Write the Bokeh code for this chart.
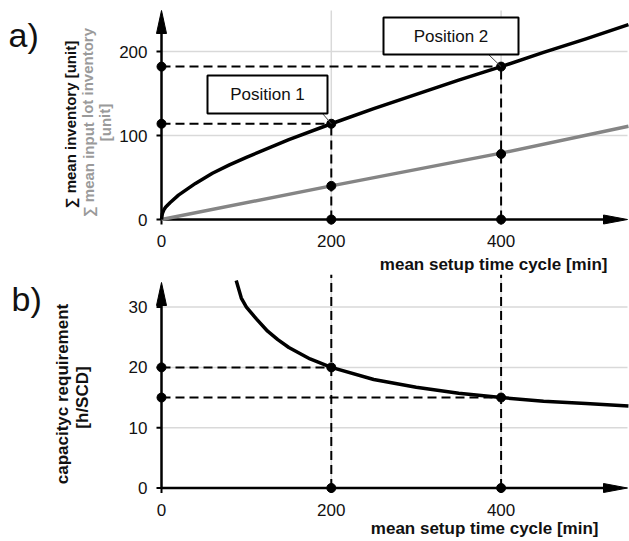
from bokeh.plotting import figure
from bokeh.models import Range1d, Label
from bokeh.layouts import column
from bokeh.embed import file_html
from bokeh.resources import INLINE
from bokeh.core.properties import value

# ---------------- data ----------------
setup_x = [0, 1, 3, 5, 10, 20, 40, 60, 80, 100, 150, 200, 250, 300, 350, 400, 450, 500, 550]
mean_inventory = [0, 7, 12, 15, 20, 29, 43, 55, 65, 74, 95, 114, 132, 149, 166, 182, 199, 215, 232]

lot_x = [0, 200, 400, 550]
lot_inventory = [0, 40, 79, 111]

cap_x = [88, 94, 100, 112, 125, 137, 150, 175, 200, 250, 300, 350, 400, 450, 500, 550]
capacity = [34.4, 31.5, 30, 28, 26, 24.6, 23.3, 21.4, 20, 18, 16.7, 15.7, 15, 14.4, 14, 13.6]

pos_x = [200, 400]
pos_labels = ["Position 1", "Position 2"]
inv_at_pos = [114, 182]
lot_at_pos = [40, 78]
cap_at_pos = [20, 15]

x_ticks = [0, 200, 400]
top_y_ticks = [0, 100, 200]
bot_y_ticks = [0, 10, 20, 30]

FONT = "Liberation Sans"

# ---------------- pixel helpers (layout only) ----------------
XP0, XS = 161.0, 0.849
def X(px):
    return (px - XP0) / XS

YT0, YTS = 219.0, 0.84
def YT(py):
    return (YT0 - py) / YTS

YB0, YBS = 487.5, 6.03
def YB(py):
    return (YB0 - py) / YBS

SPLIT = 274  # page row where the bottom panel starts

GRID = "#d9d9d9"
GREY = "#858585"
GREYTXT = "#9a9a9a"
TXT = "#111111"


def panel(height, y_lo, y_hi):
    p = figure(width=629, height=height, output_backend="svg", toolbar_location=None,
               x_range=Range1d(X(0), X(629)), y_range=Range1d(y_lo, y_hi),
               x_axis_type=None, y_axis_type=None, title=None,
               min_border_left=0, min_border_right=0, min_border_top=0, min_border_bottom=0)
    p.outline_line_color = None
    p.grid.visible = False
    return p


def ticks_and_labels(p, yfun, y_ticks):
    p.segment(x0=[X(156)] * len(y_ticks), y0=y_ticks, x1=[0] * len(y_ticks), y1=y_ticks,
              line_color="black", line_width=2)
    p.text(x=[X(147)] * len(y_ticks), y=y_ticks, text=[str(t) for t in y_ticks],
           text_font=value(FONT), text_font_size="17px", text_align="right",
           text_baseline="middle", text_color=TXT)
    p.segment(x0=x_ticks, y0=[0] * len(x_ticks), x1=x_ticks, y1=[yfun(5)] * len(x_ticks),
              line_color="black", line_width=2)


# ================= top panel =================
p1 = panel(SPLIT, YT(SPLIT), YT(0))

ytop1 = YT(10)
xend = X(627)
gy = [t for t in top_y_ticks if t > 0]
p1.segment(x0=[0] * len(gy), y0=gy, x1=[xend] * len(gy), y1=gy, line_color=GRID, line_width=1.5)
gx = [t for t in x_ticks if t > 0]
p1.segment(x0=gx, y0=[0] * len(gx), x1=gx, y1=[ytop1] * len(gx), line_color=GRID, line_width=1.5)

p1.segment(x0=[0] * len(pos_x), y0=inv_at_pos, x1=pos_x, y1=inv_at_pos,
           line_color="black", line_width=2, line_dash="9 5")
p1.segment(x0=pos_x, y0=[0] * len(pos_x), x1=pos_x, y1=inv_at_pos,
           line_color="black", line_width=2, line_dash="9 5")

ticks_and_labels(p1, lambda d: YT(YT0 + d), top_y_ticks)
p1.text(x=x_ticks, y=[YT(240)] * len(x_ticks), text=[str(t) for t in x_ticks],
        text_font=value(FONT), text_font_size="17px", text_align="center",
        text_baseline="middle", text_color=TXT)

p1.segment(x0=[0, 0], y0=[0, 0], x1=[0, X(610)], y1=[YT(25), 0], line_color="black", line_width=2.5)
p1.patch(x=[X(156), X(161), X(166)], y=[YT(33), YT(10), YT(33)], color="black")
p1.patch(x=[X(603), X(627), X(603)], y=[YT(214.5), YT(219), YT(223.5)], color="black")

p1.line(lot_x, lot_inventory, line_color=GREY, line_width=3.5)
p1.line(setup_x, mean_inventory, line_color="black", line_width=3.5, line_join="round")

p1.scatter([0] * len(pos_x) + pos_x + pos_x + pos_x,
           inv_at_pos + inv_at_pos + [0] * len(pos_x) + lot_at_pos,
           size=9, color="black")

box_l = [X(207), X(383)]
box_r = [X(327), X(518)]
box_b = [YT(113), YT(54)]
box_t = [YT(75), YT(17)]
p1.segment(x0=[X(322), X(488)], y0=[YT(113), YT(54)], x1=pos_x, y1=inv_at_pos,
           line_color="#444444", line_width=1)
p1.quad(left=box_l, right=box_r, bottom=box_b, top=box_t,
        fill_color="white", line_color="black", line_width=2)
p1.text(x=[(a + b) / 2 for a, b in zip(box_l, box_r)],
        y=[(a + b) / 2 for a, b in zip(box_b, box_t)], text=pos_labels,
        text_font=value(FONT), text_font_size="17px", text_align="center",
        text_baseline="middle", text_color=TXT)

p1.add_layout(Label(x=X(8), y=YT(34), text="a)", text_font=FONT, text_font_size="34px",
                    text_align="left", text_baseline="alphabetic", text_color=TXT))
p1.add_layout(Label(x=X(607), y=YT(264), text="mean setup time cycle [min]", text_font=FONT,
                    text_font_size="17px", text_font_style="bold", text_align="right",
                    text_baseline="middle", text_color=TXT))
p1.add_layout(Label(x=X(70), y=YT(124), text="∑ mean inventory [unit]", text_font=FONT,
                    text_font_size="15px", text_font_style="bold", angle=1.5708,
                    text_align="center", text_baseline="middle", text_color=TXT))
p1.add_layout(Label(x=X(87.5), y=YT(122), text="∑ mean input lot inventory", text_font=FONT,
                    text_font_size="15px", text_font_style="bold", angle=1.5708,
                    text_align="center", text_baseline="middle", text_color=GREYTXT))
p1.add_layout(Label(x=X(104.5), y=YT(122), text="[unit]", text_font=FONT,
                    text_font_size="15px", text_font_style="bold", angle=1.5708,
                    text_align="center", text_baseline="middle", text_color=GREYTXT))

# ================= bottom panel =================
p2 = panel(541 - SPLIT, YB(541), YB(SPLIT))

ytop2 = YB(SPLIT)
gy2 = [t for t in bot_y_ticks if t > 0]
p2.segment(x0=[0] * len(gy2), y0=gy2, x1=[xend] * len(gy2), y1=gy2, line_color=GRID, line_width=1.5)
p2.segment(x0=gx, y0=[0] * len(gx), x1=gx, y1=[ytop2] * len(gx), line_color=GRID, line_width=1.5)

p2.segment(x0=[0] * len(pos_x), y0=cap_at_pos, x1=pos_x, y1=cap_at_pos,
           line_color="black", line_width=2, line_dash="9 5")
p2.segment(x0=pos_x, y0=[0] * len(pos_x), x1=pos_x, y1=[ytop2] * len(pos_x),
           line_color="black", line_width=2, line_dash="9 5")

ticks_and_labels(p2, lambda d: YB(YB0 + d), bot_y_ticks)
p2.text(x=x_ticks, y=[YB(509)] * len(x_ticks), text=[str(t) for t in x_ticks],
        text_font=value(FONT), text_font_size="17px", text_align="center",
        text_baseline="middle", text_color=TXT)

p2.segment(x0=[0, 0], y0=[0, 0], x1=[0, X(610)], y1=[YB(297), 0], line_color="black", line_width=2.5)
p2.patch(x=[X(156), X(161), X(166)], y=[YB(305), YB(282), YB(305)], color="black")
p2.patch(x=[X(603), X(627), X(603)], y=[YB(483), YB(487.5), YB(492)], color="black")

p2.line(cap_x, capacity, line_color="black", line_width=3.5, line_join="round")

p2.scatter([0] * len(pos_x) + pos_x + pos_x,
           cap_at_pos + cap_at_pos + [0] * len(pos_x),
           size=9, color="black")

p2.add_layout(Label(x=X(11), y=YB(298), text="b)", text_font=FONT, text_font_size="34px",
                    text_align="left", text_baseline="alphabetic", text_color=TXT))
p2.add_layout(Label(x=X(598), y=YB(528), text="mean setup time cycle [min]", text_font=FONT,
                    text_font_size="17px", text_font_style="bold", text_align="right",
                    text_baseline="middle", text_color=TXT))
p2.add_layout(Label(x=X(62), y=YB(393.5), text="capacityc requirement", text_font=FONT,
                    text_font_size="17px", text_font_style="bold", angle=1.5708,
                    text_align="center", text_baseline="middle", text_color=TXT))
p2.add_layout(Label(x=X(82), y=YB(397), text="[h/SCD]", text_font=FONT,
                    text_font_size="17px", text_font_style="bold", angle=1.5708,
                    text_align="center", text_baseline="middle", text_color=TXT))

layout = column(p1, p2, spacing=0,
                styles={"position": "absolute", "left": "0px", "top": "0px"})

open("out.html", "w").write(file_html(layout, INLINE))
